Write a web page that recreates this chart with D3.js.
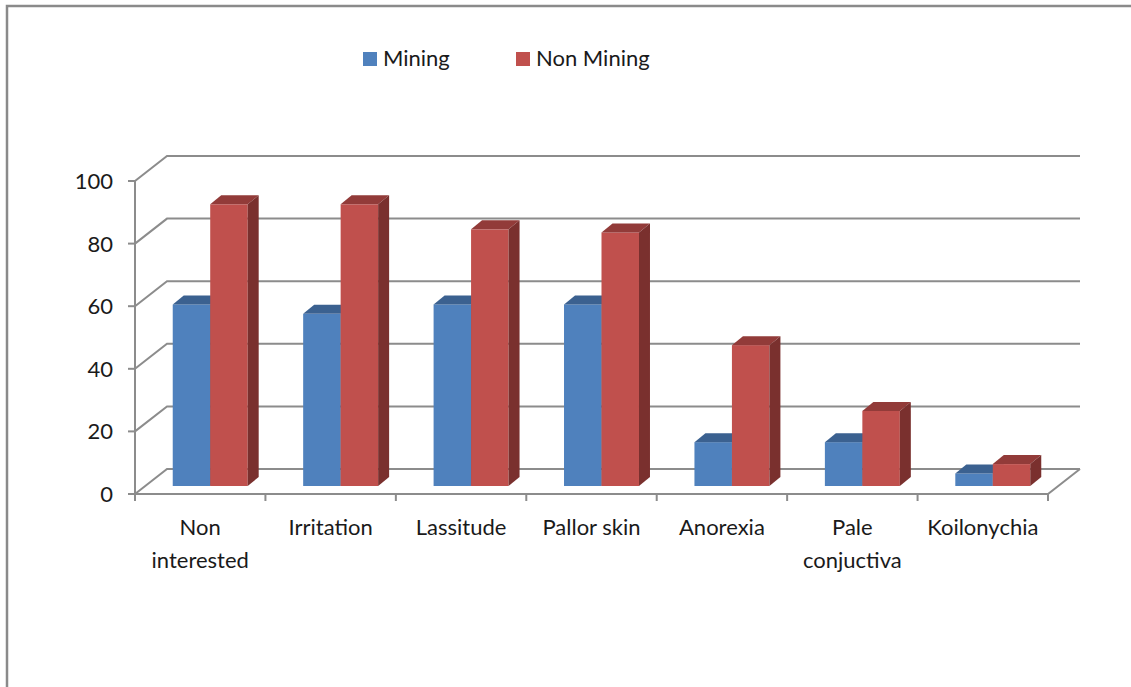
<!DOCTYPE html>
<html>
<head>
<meta charset="utf-8">
<script src="https://cdn.jsdelivr.net/npm/d3@7"></script>
<style>
  html, body { margin: 0; padding: 0; background: #fff; }
  svg { display: block; }
  text { font-family: Lato, "Open Sans", sans-serif; fill: #1a1a1a; }
</style>
</head>
<body>
<svg id="chart" width="1131" height="687"></svg>
<script>
// Symptom prevalence (%) by group
const categories = [["Non", "interested"], ["Irritation"], ["Lassitude"], ["Pallor skin"], ["Anorexia"], ["Pale", "conjuctiva"], ["Koilonychia"]];
const seriesNames = ["Mining", "Non Mining"];
const mining =    [58, 55, 58, 58, 14, 14, 4];
const nonMining = [90, 90, 82, 81, 45, 24, 7];
const yTicks = [0, 20, 40, 60, 80, 100];

const colors = {
  Mining:       { front: "#4f81bd", top: "#3b6190", side: "#325580" },
  "Non Mining": { front: "#c0504d", top: "#923b39", side: "#7a302e" }
};

const svg = d3.select("#chart");
const W = 1131, H = 687;

// Frame around the chart area
svg.append("path")
  .attr("d", `M7,${H + 2} L7,6 L${W + 2},6`)
  .attr("fill", "none").attr("stroke", "#8a8a8a").attr("stroke-width", 2.5);

// Front plane of the plot (floor front edge and vertical axis)
const left = 135, right = 1048, floorY = 494, topY = 181;
const wallDx = 32, wallDy = -25;   // depth of the back wall
const barDx = 10, barDy = -8;      // plane where the bars stand
const depthDx = 11, depthDy = -9;  // bar thickness

const y = d3.scaleLinear().domain([0, 100]).range([floorY, topY]);
const keys = categories.map(c => c.join(" "));
const x = d3.scaleBand().domain(keys).range([left, right]).padding(0);
const xs = d3.scaleBand().domain(seriesNames).range([0, x.bandwidth()])
  .paddingInner(0).paddingOuter(0.74);

const gridColor = "#8c8c8c";
const grid = svg.append("g").attr("stroke", gridColor).attr("stroke-width", 2).attr("fill", "none");

// Back-wall gridlines with their diagonals to the axis
yTicks.forEach(t => {
  const yy = y(t);
  grid.append("path").attr("d",
    `M${left},${yy} L${left + wallDx},${yy + wallDy} L${right + wallDx},${yy + wallDy}`);
  grid.append("line").attr("x1", left - 7).attr("x2", left).attr("y1", yy).attr("y2", yy);
});
// Floor front edge and right diagonal
grid.append("path").attr("d",
  `M${left},${y(0)} L${right},${y(0)} L${right + wallDx},${y(0) + wallDy}`);
// Vertical axis
grid.append("line").attr("x1", left).attr("x2", left).attr("y1", y(100)).attr("y2", y(0));
// Category tick marks
const bounds = keys.map(k => x(k)).concat([right]);
bounds.forEach(bx => {
  grid.append("line").attr("x1", bx).attr("x2", bx).attr("y1", y(0)).attr("y2", y(0) + 7);
});

// Y tick labels
svg.append("g").selectAll("text").data(yTicks).join("text")
  .attr("x", 113).attr("y", d => y(d)).attr("dy", "0.36em")
  .attr("text-anchor", "end").attr("font-size", 22).text(d => d);

// 3D bars
const rows = keys.map((k, i) => ({ key: k, Mining: mining[i], "Non Mining": nonMining[i] }));
const barsG = svg.append("g");
rows.forEach(r => {
  seriesNames.forEach(s => {
    const c = colors[s];
    const x0 = x(r.key) + xs(s) + barDx;
    const x1 = x0 + xs.bandwidth();
    const yt = y(r[s]) + barDy;
    const yb = y(0) + barDy;
    const g = barsG.append("g");
    g.append("rect").attr("x", x0).attr("y", yt).attr("width", x1 - x0).attr("height", yb - yt)
      .attr("fill", c.front);
    g.append("path").attr("fill", c.top).attr("d",
      `M${x0},${yt} L${x0 + depthDx},${yt + depthDy} L${x1 + depthDx},${yt + depthDy} L${x1},${yt} Z`);
    g.append("path").attr("fill", c.side).attr("d",
      `M${x1},${yt} L${x1 + depthDx},${yt + depthDy} L${x1 + depthDx},${yb + depthDy} L${x1},${yb} Z`);
  });
});

// Category labels
const labels = svg.append("g").attr("font-size", 22).attr("text-anchor", "middle");
categories.forEach((lines, i) => {
  const cx = x(keys[i]) + x.bandwidth() / 2;
  const t = labels.append("text").attr("x", cx).attr("y", 535);
  lines.forEach((ln, j) => {
    t.append("tspan").attr("x", cx).attr("dy", j === 0 ? 0 : 33).text(ln);
  });
});

// Legend
const legend = svg.append("g").attr("font-size", 22);
const legendX = [363, 516];
seriesNames.forEach((s, i) => {
  legend.append("rect").attr("x", legendX[i]).attr("y", 52).attr("width", 14).attr("height", 14)
    .attr("fill", colors[s].front);
  legend.append("text").attr("x", legendX[i] + 20).attr("y", 66).text(s);
});
</script>
</body>
</html>
